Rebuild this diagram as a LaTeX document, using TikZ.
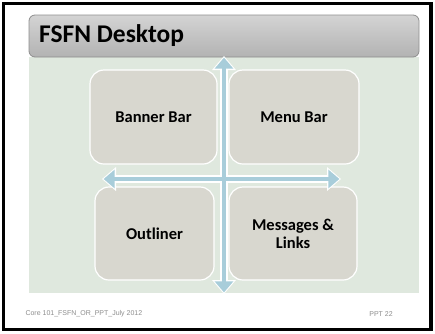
\documentclass[tikz,border=0pt]{standalone}
\usepackage{fontspec}
\setmainfont{Carlito}
\newfontfamily\footfont{Liberation Sans}
\usetikzlibrary{arrows.meta}
\definecolor{panelgreen}{HTML}{DFE8DE}
\definecolor{boxgray}{HTML}{D8D7CF}
\definecolor{arrowblue}{HTML}{A8CDDA}
\definecolor{barline}{HTML}{8E8E8E}

\begin{document}
\begin{tikzpicture}[x=1pt,y=-1pt,
  block/.style={draw=white,line width=1.2pt,fill=boxgray,rounded corners=14pt,
    inner sep=0pt,minimum height=94pt,align=center,
    font=\bfseries\fontsize{16.5}{18}\selectfont},
  outline/.style={draw=white,line width=7.5pt,
    {Triangle[width=23pt,length=14pt]}-{Triangle[width=23pt,length=14pt]}},
  shaft/.style={draw=arrowblue,line width=4.5pt,shorten <=1.6pt,shorten >=1.6pt,
    {Triangle[width=18pt,length=11pt]}-{Triangle[width=18pt,length=11pt]}},
  foot/.style={font=\footfont\fontsize{7}{8}\selectfont,text=black!45}]
  \useasboundingbox (0,0) rectangle (435,333);
  \draw[line width=3.5pt] (3.5,3.5) rectangle (431,329.5);
  \fill[panelgreen] (29,57) rectangle (419,293);
  \draw[barline,line width=0.8pt,rounded corners=6pt,top color=black!17,bottom color=black!30]
    (29,15) rectangle (419,57);
  \node[anchor=west,inner sep=0pt,font=\bfseries\fontsize{25.5}{28}\selectfont] (title) at (39,36) {FSFN Desktop};

  \node[block,minimum width=127pt] (banner) at (153.5,117) {Banner Bar};
  \node[block,minimum width=130pt] (menu) at (294,117) {Menu Bar};
  \node[block,minimum width=119pt,minimum height=93pt] (outliner) at (154.5,233.5) {Outliner};
  \node[block,minimum width=128pt,minimum height=93pt] (messages) at (293,233.5) {Messages \&\\Links};

  \coordinate (up) at (224,56);
  \coordinate (down) at (224,294);
  \coordinate (left) at (102,179);
  \coordinate (right) at (341,179);
  \draw[outline] (left) -- (right);
  \draw[outline] (up) -- (down);
  \draw[shaft] (left) -- (right);
  \draw[shaft] (up) -- (down);

  \node[foot,anchor=west] (course) at (22,314) {Core 101\_FSFN\_OR\_PPT\_July 2012};
  \node[foot] (page) at (381,314) {PPT 22};
\end{tikzpicture}
\end{document}
